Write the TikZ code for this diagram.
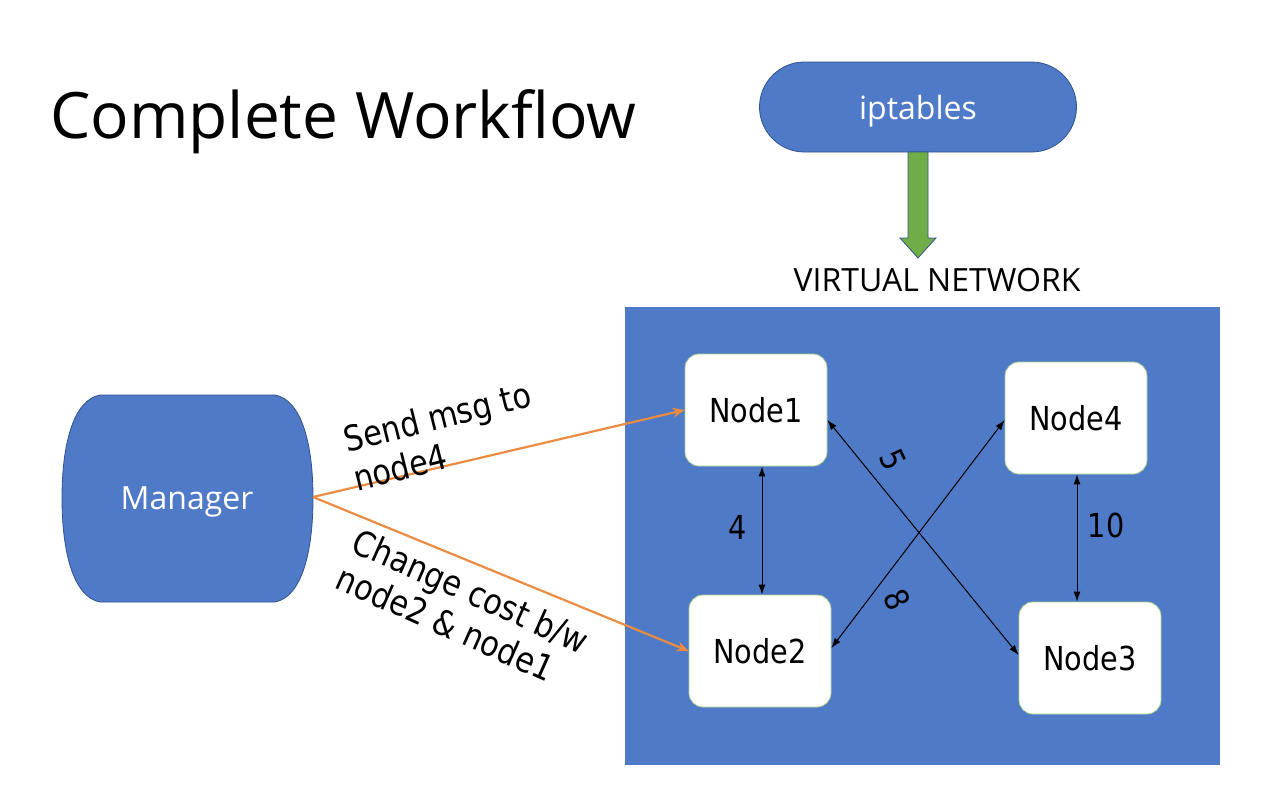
\documentclass[tikz,border=0pt]{standalone}
\usepackage{fontspec}
\setmainfont{Open Sans}
\newfontfamily\labelfont[FakeStretch=0.87]{DejaVu Sans}
\usetikzlibrary{arrows.meta}
\definecolor{boxblue}{HTML}{4F7AC8}
\definecolor{edgeblue}{HTML}{2F528F}
\definecolor{arrowgreen}{HTML}{70AD47}
\definecolor{msgorange}{HTML}{EC8B42}
\definecolor{nodeline}{HTML}{A9D18E}

\begin{document}
\begin{tikzpicture}[x=0.5pt,y=-0.5pt,
        vnode/.style={draw=nodeline,fill=white,rounded corners=7pt,minimum width=71pt,minimum height=56pt,font=\labelfont\fontsize{16.5}{19}\selectfont},
        link/.style={{Latex[length=5pt,width=3.5pt]}-{Latex[length=5pt,width=3.5pt]},line width=0.5pt},
        msg/.style={-{Stealth[length=6pt,width=5pt]},draw=msgorange,line width=1.1pt},
        cost/.style={font=\labelfont\fontsize{16.5}{19}\selectfont},
        note/.style={align=left,anchor=center,font=\labelfont\fontsize{17.5}{20}\selectfont}]
        \useasboundingbox (0,0) rectangle (1280,810);
        \node [anchor=base west,font=\fontsize{32}{38}\selectfont] (title) at (43,138) {Complete Workflow};
        \node [draw=edgeblue,fill=boxblue,text=white,rounded corners=22.5pt,minimum width=158.5pt,minimum height=45pt,text depth=0pt,font=\fontsize{16}{19}\selectfont] (iptables) at (918,107) {iptables};
        \draw[draw=edgeblue,fill=arrowgreen,line width=0.4pt](908,152)--(928,152)--(928,238)--(936,238)--(918,258)--(900,238)--(908,238)--cycle;
        \node [font=\fontsize{16}{19}\selectfont] (vnet) at (937,280) {VIRTUAL NETWORK};
        \fill[boxblue](625,307) rectangle (1220,765);
        % manager
        \draw[draw=edgeblue,fill=boxblue,line width=0.4pt](100,395)--(275,395) .. controls (302,400) and (313,445) .. (313,498) .. controls (313,551) and (302,597) .. (275,602)--(100,602) .. controls (73,597) and (62,551) .. (62,498) .. controls (62,445) and (73,400) .. (100,395)--cycle;
        \node [text=white,text depth=0pt,font=\fontsize{16}{19}\selectfont] (manager) at (187,498) {Manager};
        \coordinate (mgr) at (313,497);
        % nodes
        \node [vnode] (node1) at (756,410) {Node1};
        \node [vnode] (node4) at (1076,418) {Node4};
        \node [vnode] (node2) at (760,651) {Node2};
        \node [vnode] (node3) at (1090,658) {Node3};
        \draw[link]([xshift=3pt]node1.south)--([xshift=1pt]node2.north);
        \draw[link]([xshift=0.5pt]node4.south)--([xshift=-6.5pt]node3.north);
        \draw[link]([yshift=-5pt]node1.east)--([yshift=1.5pt]node3.west);
        \draw[link]([yshift=-1pt]node4.west)--([yshift=1.5pt]node2.east);
        \node [cost] (c4) at (738,527) {4};
        \node [cost] (c10) at (1106,525) {10};
        \node [cost,rotate=-65] (c5) at (893,460) {5};
        \node [cost,rotate=-65] (c8) at (897,600) {8};
        % manager messages
        \draw[msg](mgr)--(node1.west);
        \draw[msg](mgr)--(node2.west);
        \node [note,rotate=14] (send) at (442,436) {Send msg to\\node4};
        \node [note,rotate=-24] (change) at (463,609) {Change cost b/w\\node2 \& node1};
\end{tikzpicture}
\end{document}
